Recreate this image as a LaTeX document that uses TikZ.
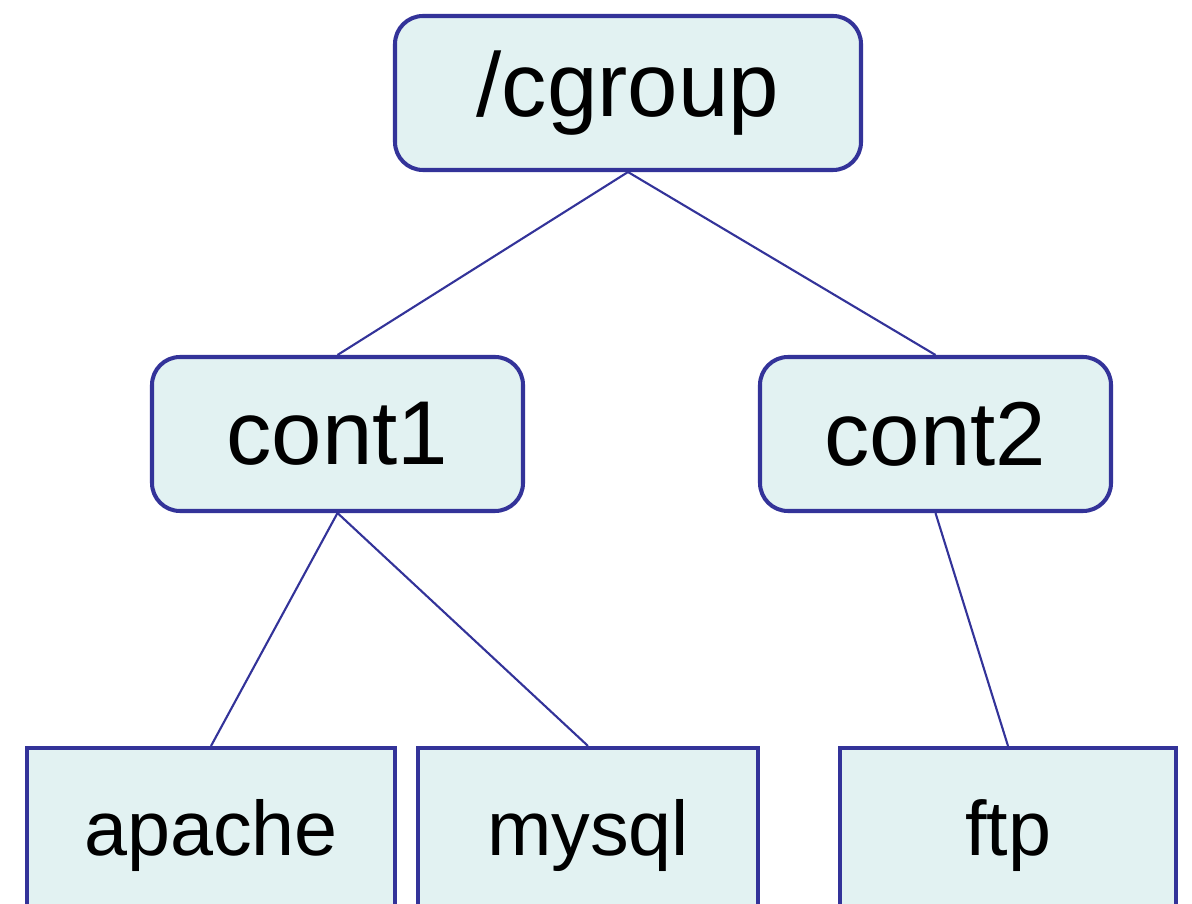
\documentclass[tikz,border=0pt]{standalone}
\usepackage{fontspec}
\setmainfont{Liberation Sans}
\usetikzlibrary{positioning}
\definecolor{boxblue}{RGB}{51,51,153}
\definecolor{boxfill}{RGB}{226,242,242}

\begin{document}
\begin{tikzpicture}[
    dirbox/.style={draw=boxblue, fill=boxfill, line width=1.15pt, rounded corners=0.28cm,
        minimum height=1.54cm, inner sep=0pt, font=\fontsize{25.8}{30}\selectfont},
    leafbox/.style={draw=boxblue, fill=boxfill, line width=1.15pt,
        minimum height=1.76cm, inner sep=0pt, font=\fontsize{22}{26}\selectfont},
    link/.style={draw=boxblue, line width=0.6pt}]
			% Fix the frame
			\useasboundingbox (0,0) rectangle (11.92,9.03);
			\clip (0,0) rectangle (11.92,9.03);

			% Draw the root and the two containers
			\node[dirbox, minimum width=4.66cm] (cgroup) at (6.28, 8.10) {/cgroup};
			\node[dirbox, minimum width=3.71cm] (cont1) at (3.375, 4.69) {cont1};
			\node[dirbox, minimum width=3.51cm] (cont2) at (9.355, 4.69) {cont2};

			% Draw the leaves (cut off at the bottom)
			\node[leafbox, minimum width=3.68cm] (apache) at (2.11, 0.67) {apache};
			\node[leafbox, minimum width=3.40cm] (mysql) at (5.88, 0.67) {mysql};
			\node[leafbox, minimum width=3.36cm] (ftp) at (10.08, 0.67) {ftp};

			% Draw the links
			\draw[link] (cgroup.south) -- (cont1.north);
			\draw[link] (cgroup.south) -- (cont2.north);
			\draw[link] (cont1.south) -- (apache.north);
			\draw[link] (cont1.south) -- (mysql.north);
			\draw[link] (cont2.south) -- (ftp.north);
\end{tikzpicture}
\end{document}
